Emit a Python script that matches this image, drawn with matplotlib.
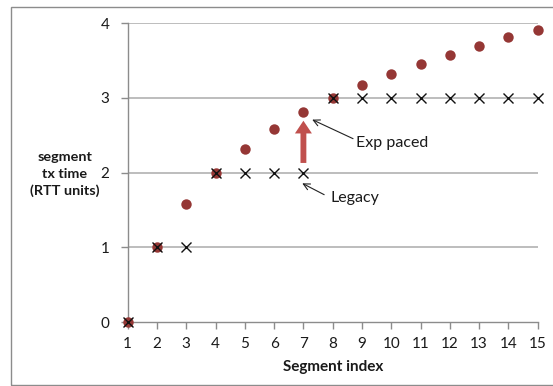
import matplotlib
matplotlib.use("Agg")
import matplotlib.pyplot as plt
from matplotlib.patches import Rectangle, FancyArrow

plt.rcParams['font.family'] = ['Lato', 'DejaVu Sans']

segments = [1, 2, 3, 4, 5, 6, 7, 8, 9, 10, 11, 12, 13, 14, 15]
exp_paced = [0, 1, 1.58, 2, 2.32, 2.58, 2.81, 3, 3.17, 3.32, 3.46, 3.58, 3.70, 3.81, 3.91]
legacy = [0, 1, 1, 2, 2, 2, 2, 3, 3, 3, 3, 3, 3, 3, 3]
yticks = [0, 1, 2, 3, 4]

W, H = 553, 386
fig = plt.figure(figsize=(W / 100, H / 100), dpi=100)
ax = fig.add_axes([127.7 / W, 1 - 322 / H, (537.7 - 127.7) / W, (322 - 23.3) / H])

# outer frame
fig.patches.append(Rectangle((10.5 / W, 1 / H), 1.2, 1 - 7.5 / H, transform=fig.transFigure,
                             fill=False, edgecolor='#8c8c8c', lw=1.0))

ax.set_xlim(1, 15)
ax.set_ylim(0, 4)
ax.set_yticks(yticks)
ax.set_xticks(segments)
ax.set_yticklabels([str(v) for v in yticks])
ax.set_xticklabels([str(v) for v in segments])

for y in yticks[1:]:
    ax.axhline(y, color='#b8b8b8', lw=1.3, zorder=1)

for s in ['top', 'right']:
    ax.spines[s].set_visible(False)
for s in ['left', 'bottom']:
    ax.spines[s].set_color('#8c8c8c')
    ax.spines[s].set_linewidth(1.0)

ax.tick_params(axis='both', direction='out', length=5, width=1, color='#8c8c8c',
               labelsize=11, labelcolor='#1a1a1a')
ax.tick_params(axis='x', pad=6)
ax.tick_params(axis='y', pad=8)

ax.plot(segments, exp_paced, 'o', color='#953735', markersize=7.5, markeredgewidth=0,
        clip_on=False, zorder=3)
ax.plot(segments, legacy, 'x', color='#111111', markersize=6.8, markeredgewidth=1.0,
        clip_on=False, zorder=4)

# red upward arrow
ax.add_patch(FancyArrow(7, 2.13, 0, 2.695 - 2.13, width=0.2, head_width=0.58, head_length=0.17,
                        length_includes_head=True, color='#c0504d', lw=0, zorder=2))

ax.annotate('Exp paced', xy=(7.30, 2.71), xytext=(8.79, 2.40), fontsize=11.5,
            va='center', ha='left', color='#1a1a1a',
            arrowprops=dict(arrowstyle='->', color='#222222', lw=0.8,
                            shrinkA=0, shrinkB=0, relpos=(0, 0.7)))
ax.annotate('Legacy', xy=(6.96, 1.857), xytext=(7.93, 1.66), fontsize=11.5,
            va='center', ha='left', color='#1a1a1a',
            arrowprops=dict(arrowstyle='->', color='#222222', lw=0.8,
                            shrinkA=3, shrinkB=0, relpos=(0, 0.5)))

fig.text(65 / W, 1 - 174 / H, 'segment\ntx time\n(RTT units)', ha='center', va='center',
         fontsize=10.4, fontweight='bold', linespacing=1.45, color='#1a1a1a')
ax.set_xlabel('Segment index', fontsize=11, fontweight='bold', color='#1a1a1a', labelpad=6)

fig.savefig('out.png', dpi=100)
